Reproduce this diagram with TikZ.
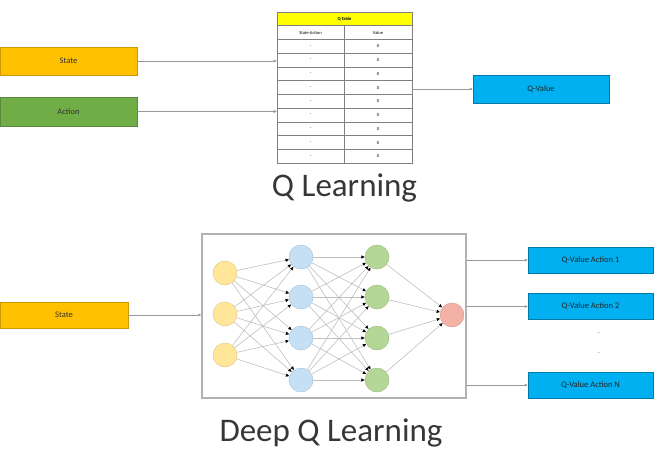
\documentclass[tikz,border=0pt]{standalone}
\usepackage{fontspec}
\setmainfont{Carlito}
\usepackage{xcolor}
\usetikzlibrary{arrows.meta,positioning}
\definecolor{stateorange}{RGB}{255,192,0}
\definecolor{actiongreen}{RGB}{112,173,71}
\definecolor{qblue}{RGB}{0,176,240}
\definecolor{tableyellow}{RGB}{255,255,0}
\definecolor{nyellow}{RGB}{255,230,153}
\definecolor{nblue}{RGB}{197,224,245}
\definecolor{ngreen}{RGB}{180,215,150}
\definecolor{nred}{RGB}{244,177,165}
\definecolor{titlegray}{RGB}{55,55,55}
\newcommand{\boxfont}{\fontsize{8.5}{9}\selectfont}
\newcommand{\cellfont}{\fontsize{4.5}{5}\selectfont}

\begin{document}
\begin{tikzpicture}[
    x=1pt,y=-1pt,
    inbox/.style={rectangle,draw=#1!80!black,fill=#1,minimum height=28pt,
      inner sep=0pt,font=\boxfont,text=black!80},
    qbox/.style={rectangle,draw=qblue!70!black,fill=qblue,minimum width=125pt,
      minimum height=26pt,inner sep=0pt,font=\boxfont,text=black!85},
    cell/.style={rectangle,draw=gray,line width=0.6pt,minimum height=13.75pt,inner sep=0pt,
      font=\cellfont},
    neuron/.style={circle,draw=#1!85!black,fill=#1,minimum size=24pt,inner sep=0pt},
    synapse/.style={-{Latex[length=3.5pt,width=3.5pt,color=black]},draw=gray!50,line width=0.6pt},
    link/.style={-{Latex[length=3pt,width=3pt]},draw=gray!80,thin},
    title/.style={font=\fontsize{33}{36}\selectfont,text=titlegray}
  ]
    \useasboundingbox (0,0) rectangle (669,452);

    \node[inbox=stateorange,minimum width=137pt] (state) at (68.5,61) {State};
    \node[inbox=actiongreen,minimum width=137pt,minimum height=29pt] (action) at (68.5,111.5) {Action};
    \node[qbox,minimum width=136pt,minimum height=28pt] (qvalue) at (541,89) {Q-Value};

    \node[cell,fill=tableyellow,minimum width=135pt,font=\cellfont\bfseries] (qhead) at (344.5,18.9) {Q Table};
    \node[cell,minimum width=67pt] (sa1) at (310.5,32.6) {State-Action};
    \node[cell,minimum width=68pt] (val1) at (378,32.6) {Value};
    \foreach \r in {2,...,10}
      \node[cell,minimum width=67pt] (sa\r) at (310.5,{12+13.75*(\r+0.5)}) {-};
    \foreach \r in {2,...,10}
      \node[cell,minimum width=68pt] (val\r) at (378,{12+13.75*(\r+0.5)}) {0};
    \node[rectangle,draw=gray,line width=0.6pt,minimum width=135pt,minimum height=151.25pt] (qtable) at (344.5,87.6) {};

    \draw[link] (state) -- (state -| qtable.west);
    \draw[link] (action) -- (action -| qtable.west);
    \draw[link] (qtable.east |- qvalue) -- (qvalue);

    \node[title] (qltitle) at (344.5,188) {Q Learning};

    \node[rectangle,draw=gray!60,line width=1.5pt,minimum width=264pt,minimum height=164pt] (nnbox) at (334,316) {};

    \foreach \i/\y in {1/273,2/314,3/355}
      \node[neuron=nyellow] (in\i) at (225,\y) {};
    \foreach \i/\y in {1/257,2/297,3/338,4/380} {
      \node[neuron=nblue] (hA\i) at (301,\y) {};
      \node[neuron=ngreen] (hB\i) at (377,\y) {};
    }
    \node[neuron=nred] (out) at (452,315) {};

    \foreach \i in {1,2,3}
      \foreach \j in {1,...,4}
        \draw[synapse] (in\i) -- (hA\j);
    \foreach \i in {1,...,4}
      \foreach \j in {1,...,4}
        \draw[synapse] (hA\i) -- (hB\j);
    \foreach \i in {1,...,4}
      \draw[synapse] (hB\i) -- (out);

    \node[inbox=stateorange,minimum width=128pt,minimum height=26pt] (dqstate) at (64,315) {State};
    \node[qbox] (qva1) at (590.5,260) {Q-Value Action 1};
    \node[qbox] (qva2) at (590.5,306.5) {Q-Value Action 2};
    \node[qbox] (qvan) at (590.5,385) {Q-Value Action N};
    \node[font=\boxfont,text=gray] (dots1) at (599,333) {.};
    \node[font=\boxfont,text=gray] (dots2) at (599,353) {.};

    \draw[link] (dqstate) -- (dqstate -| nnbox.west);
    \draw[link] (nnbox.east |- qva1) -- (qva1);
    \draw[link] (nnbox.east |- qva2) -- (qva2);
    \draw[link] (nnbox.east |- qvan) -- (qvan);

    \node[title] (dqltitle) at (331,433) {Deep Q Learning};
  \end{tikzpicture}
\end{document}
